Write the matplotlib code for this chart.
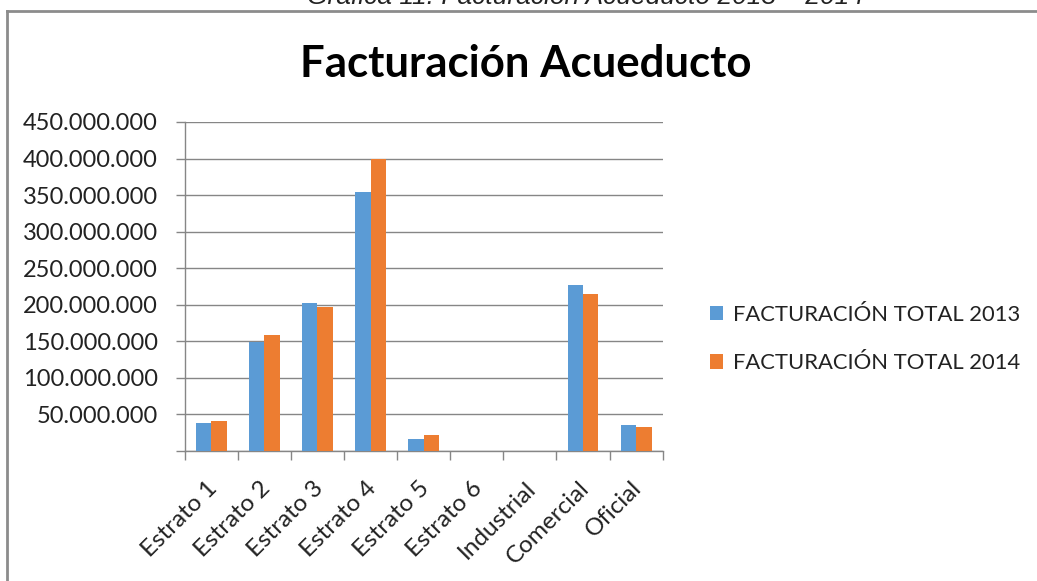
import matplotlib
matplotlib.use("Agg")
import matplotlib.pyplot as plt
import matplotlib.transforms as mtransforms
from matplotlib.ticker import FuncFormatter, FixedLocator
import numpy as np

categories = ["Estrato 1", "Estrato 2", "Estrato 3", "Estrato 4", "Estrato 5",
              "Estrato 6", "Industrial", "Comercial", "Oficial"]
fact_2013 = [38.7e6, 149e6, 202e6, 354e6, 16e6, 0, 0, 226.6e6, 35e6]
fact_2014 = [40.6e6, 158e6, 196.5e6, 399e6, 21.5e6, 0, 0, 214.3e6, 33.2e6]
series_names = ["FACTURACIÓN TOTAL 2013", "FACTURACIÓN TOTAL 2014"]
colors = ["#5B9BD5", "#ED7D31"]
yticks = np.arange(0, 450e6 + 1, 50e6)

W, H = 1037, 581
fig = plt.figure(figsize=(W / 100, H / 100), dpi=100)
fig.patch.set_facecolor("white")

font = "Lato"
grey = "#868686"

# outer frame
fig.add_artist(plt.Line2D([7 / W, 7 / W], [0, 1 - 11 / H], color="#8c8c8c", lw=2.0, transform=fig.transFigure))
fig.add_artist(plt.Line2D([7 / W, 1.01], [1 - 11 / H, 1 - 11 / H], color="#8c8c8c", lw=2.0, transform=fig.transFigure))

# caption (cut at top)
fig.text(585 / W, 1 - 4.5 / H, "Gráfica 11: Facturación Acueducto 2013 – 2014", ha="center", va="baseline",
         fontsize=19, style="italic", family="Liberation Sans", color="#222222")

# title
fig.text(526 / W, 1 - 77 / H, "Facturación Acueducto", ha="center", va="baseline",
         fontsize=31.5, fontweight="bold", family=font, color="black")

ax = fig.add_axes([184.7 / W, 130 / H, (662.7 - 184.7) / W, (451 - 122) / H])
x = np.arange(len(categories))
bw = 0.29
ax.bar(x - bw / 2, fact_2013, bw, color=colors[0], label=series_names[0], zorder=3)
ax.bar(x + bw / 2, fact_2014, bw, color=colors[1], label=series_names[1], zorder=3)

ax.set_xlim(-0.5, len(categories) - 0.5)
ax.set_ylim(0, 450e6)
ax.set_yticks(yticks)
ax.yaxis.set_major_formatter(FuncFormatter(lambda v, p: "" if v == 0 else f"{int(v):,}".replace(",", ".")))
ax.grid(axis="y", color=grey, lw=1.0, zorder=0)
for s in ["top", "right"]:
    ax.spines[s].set_visible(False)
for s in ["left", "bottom"]:
    ax.spines[s].set_color(grey)
    ax.spines[s].set_linewidth(1.0)
ax.tick_params(axis="y", length=6.5, width=1.0, color=grey, labelsize=17, labelcolor="#222222", pad=13)
ax.set_xticks(x)
ax.set_xticklabels(categories, rotation=45, ha="right", rotation_mode="anchor", fontsize=17.5, family=font, color="#222222")
ax.tick_params(axis="x", which="major", length=0, pad=19)
ax.xaxis.set_minor_locator(FixedLocator(np.arange(-0.5, len(categories), 1.0)))
ax.tick_params(axis="x", which="minor", length=6.5, width=1.0, color=grey)
offset = mtransforms.ScaledTranslation(-5 / 100, 0, fig.dpi_scale_trans)
for lab in ax.get_xticklabels():
    lab.set_transform(lab.get_transform() + offset)
for lab in ax.get_yticklabels():
    lab.set_family(font)

handles, labels = ax.get_legend_handles_labels()
fig.legend(handles, labels, loc="center left", bbox_to_anchor=(690 / W, 1 - 339 / H), frameon=False,
           prop={"family": font, "size": 15.8}, handlelength=0.62, handleheight=0.62, labelspacing=1.3,
           handletextpad=0.45, labelcolor="#222222")

fig.savefig("out.png", dpi=100, facecolor="white")
